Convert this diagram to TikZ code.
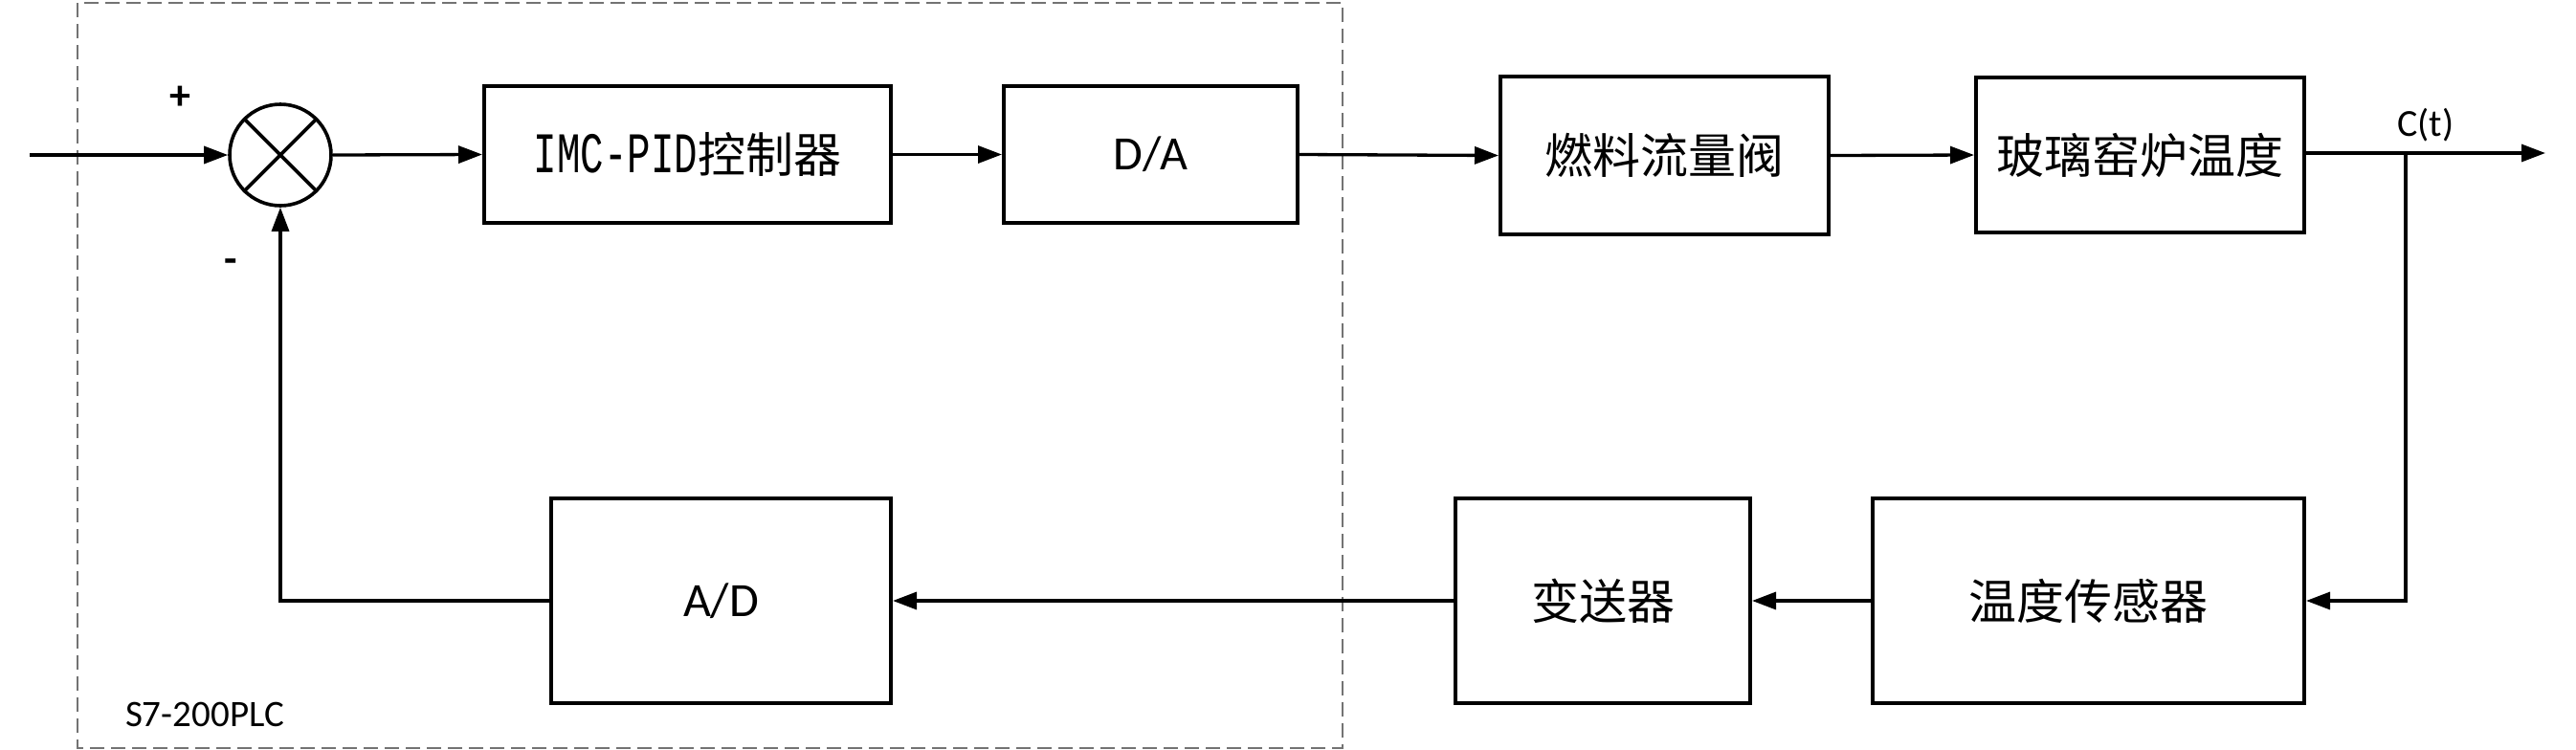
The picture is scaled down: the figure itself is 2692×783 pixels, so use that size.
\documentclass[tikz,border=0pt]{standalone}
\usepackage{graphicx}
\usepackage{fontspec}
\setmainfont{Carlito}
\newfontfamily\cjk{Noto Sans CJK SC}
\newfontfamily\monof{Liberation Mono}
\usetikzlibrary{arrows.meta}
\begin{document}
\begin{tikzpicture}[x=0.5pt,y=-0.5pt,
  blk/.style={draw,line width=2pt,inner sep=0pt,font=\cjk\fontsize{25pt}{30pt}\selectfont},
  conn/.style={line width=1.65pt,-{Triangle[length=12.5pt,width=9pt]}},
  sumc/.style={draw,circle,line width=1.8pt,minimum size=53pt,inner sep=0pt},
  lbl/.style={font=\fontsize{18pt}{22pt}\selectfont,inner sep=0pt}]
\useasboundingbox (0,0) rectangle (2692,783);
% PLC dashed region
\draw[black!55,line width=0.75pt,dash pattern=on 7.5pt off 3.5pt] (81,3) rectangle (1403,782);
\node[lbl,font=\fontsize{19.5pt}{23pt}\selectfont] (plc) at (214,747) {S7-200PLC};
% summing junction
\node[sumc] (sum) at (293,162) {};
\draw[line width=1.8pt] (sum.north west) -- (sum.south east) (sum.north east) -- (sum.south west);
\coordinate (in) at (31,162);
\node[lbl,font=\bfseries\fontsize{22pt}{26pt}\selectfont] (plus) at (188,102) {+};
\node[lbl,font=\bfseries\fontsize{22pt}{26pt}\selectfont] (minus) at (241,278) {-};
% forward path
\node[blk,minimum width=212.5pt,minimum height=71.5pt] (imc) at (718.5,161.5)
  {\scalebox{0.68}[1]{\monof\fontsize{30pt}{34pt}\selectfont IMC-PID}控制器};
\node[blk,minimum width=153.5pt,minimum height=71.5pt,font=\fontsize{25pt}{30pt}\selectfont] (da) at (1202.5,161.5) {D/A};
\node[blk,minimum width=171.5pt,minimum height=82.5pt] (fuel) at (1739.5,162.5) {燃料流量阀};
\node[blk,minimum width=171.5pt,minimum height=81pt] (glass) at (2236.5,162) {玻璃窑炉温度};
% feedback path
\node[blk,minimum width=225.5pt,minimum height=107pt] (temp) at (2182.5,628) {温度传感器};
\node[blk,minimum width=154pt,minimum height=107pt] (trans) at (1675,628) {变送器};
\node[blk,minimum width=177.5pt,minimum height=107pt,font=\fontsize{25pt}{30pt}\selectfont] (ad) at (753.5,628) {A/D};
% output
\coordinate (out) at (2660,160);
\coordinate (br) at (2514,160);
\coordinate (brd) at (2514,628);
\coordinate (fbc) at (293,628);
\node[lbl,anchor=south,font=\fontsize{20pt}{24pt}\selectfont] (ct) at (2535,148) {C(t)};
% connectors
\draw[conn] (in) -- (sum.west);
\draw[conn] (sum.east) -- (imc.west);
\draw[conn] (imc.east) -- (da.west);
\draw[conn] (da.east) -- (fuel.west);
\draw[conn] (fuel.east) -- (glass.west);
\draw[conn] (glass.east |- out) -- (out);
\draw[conn] (br) -- (brd) -- (temp.east);
\draw[conn] (temp.west) -- (trans.east);
\draw[conn] (trans.west) -- (ad.east);
\draw[conn] (ad.west) -- (fbc) -- (sum.south);
\end{tikzpicture}
\end{document}
